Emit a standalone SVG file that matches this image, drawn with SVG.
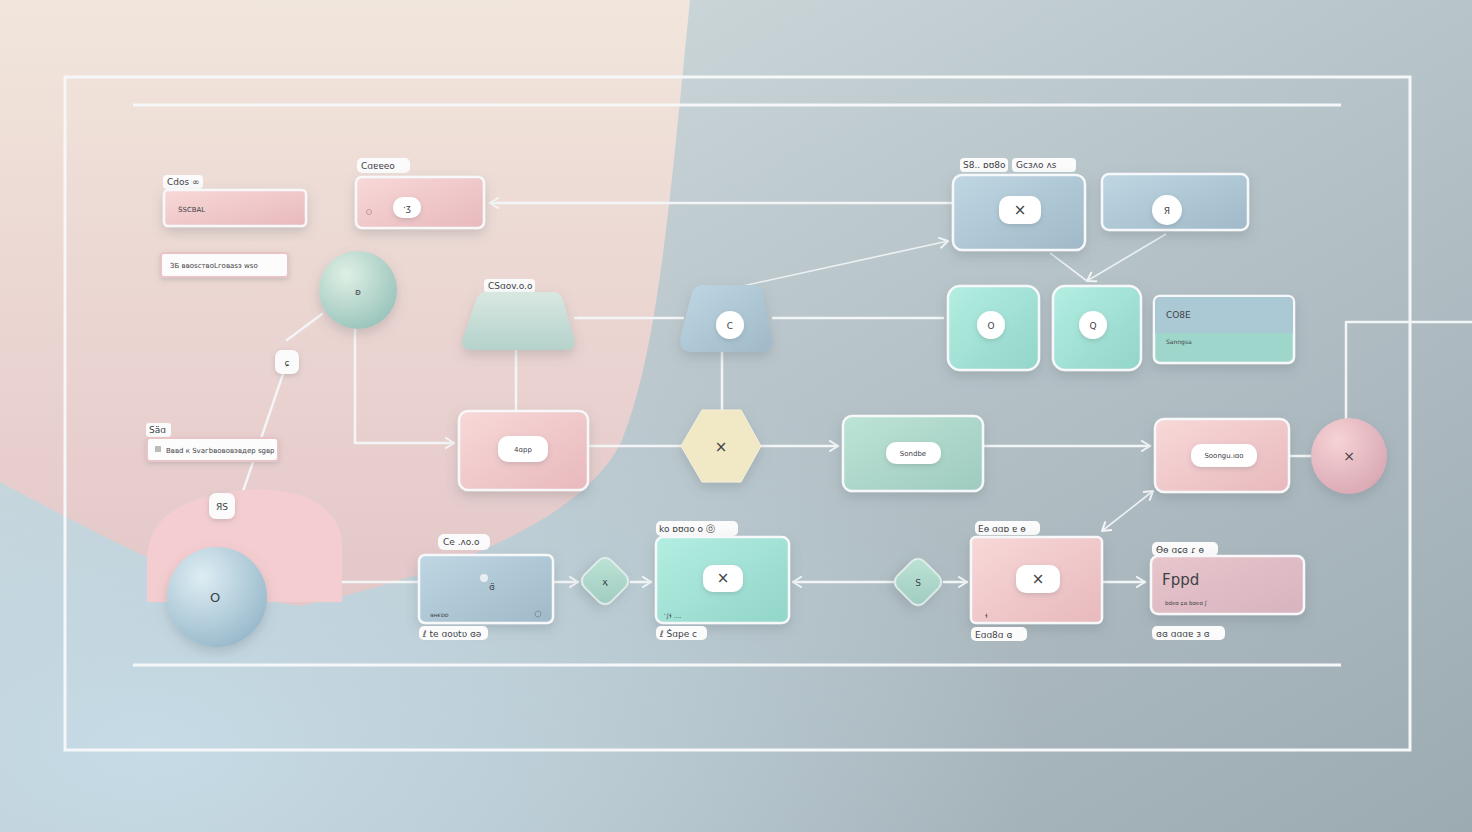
<svg xmlns="http://www.w3.org/2000/svg" width="1472" height="832" viewBox="0 0 1472 832">
<defs>
<linearGradient id="bg" x1="0" y1="0" x2="1" y2="1"><stop offset="0" stop-color="#d9e3e4"/><stop offset="0.5" stop-color="#b7c4c9"/><stop offset="1" stop-color="#9caab2"/></linearGradient>
<linearGradient id="pinkbg" x1="0" y1="0" x2="0" y2="1"><stop offset="0" stop-color="#f1e6dc"/><stop offset="0.5" stop-color="#ebd6d2"/><stop offset="1" stop-color="#e4c7c9"/></linearGradient>
<radialGradient id="bluebl" cx="0.1" cy="0.9" r="0.6"><stop offset="0" stop-color="#c6dbe6"/><stop offset="1" stop-color="#c6dbe6" stop-opacity="0"/></radialGradient>
<linearGradient id="gPink" x1="0" y1="0" x2="1" y2="1"><stop offset="0" stop-color="#f8d8d8"/><stop offset="1" stop-color="#e8b9bd"/></linearGradient>
<linearGradient id="gBlue" x1="0" y1="0" x2="1" y2="1"><stop offset="0" stop-color="#bfd7e3"/><stop offset="1" stop-color="#a0b9c8"/></linearGradient>
<linearGradient id="gTeal" x1="0" y1="0" x2="1" y2="1"><stop offset="0" stop-color="#b3eee2"/><stop offset="1" stop-color="#92d5c9"/></linearGradient>
<linearGradient id="gGreen" x1="0" y1="0" x2="1" y2="1"><stop offset="0" stop-color="#bde4d6"/><stop offset="1" stop-color="#9ecabf"/></linearGradient>
<linearGradient id="gTrap" x1="0" y1="0" x2="0" y2="1"><stop offset="0" stop-color="#d8e8e1"/><stop offset="1" stop-color="#b4d2cb"/></linearGradient>
<linearGradient id="gMauve" x1="0" y1="0" x2="1" y2="1"><stop offset="0" stop-color="#e8c6cc"/><stop offset="1" stop-color="#d7b3bf"/></linearGradient>
<radialGradient id="cGreen" cx="0.35" cy="0.3" r="0.8"><stop offset="0" stop-color="#dff0e4"/><stop offset="1" stop-color="#95c1b9"/></radialGradient>
<radialGradient id="cBlue" cx="0.35" cy="0.3" r="0.8"><stop offset="0" stop-color="#deedf3"/><stop offset="1" stop-color="#94b6c9"/></radialGradient>
<radialGradient id="cPink" cx="0.35" cy="0.3" r="0.8"><stop offset="0" stop-color="#f6d2d5"/><stop offset="1" stop-color="#d8a6b2"/></radialGradient>
<filter id="sh" x="-30%" y="-30%" width="160%" height="170%"><feDropShadow dx="0" dy="5" stdDeviation="6" flood-color="#5a6870" flood-opacity="0.25"/></filter>
<filter id="sh2" x="-30%" y="-30%" width="160%" height="170%"><feDropShadow dx="0" dy="2" stdDeviation="2.5" flood-color="#5a6870" flood-opacity="0.25"/></filter>
<marker id="arr" viewBox="0 0 12 12" refX="10" refY="6" markerWidth="12" markerHeight="12" markerUnits="userSpaceOnUse" orient="auto-start-reverse"><path d="M2,1 L10,6 L2,11" fill="none" stroke="#f4f6f7" stroke-width="2" stroke-linecap="round" stroke-linejoin="round"/></marker>
<style>
.ln{fill:none;stroke:#f3f5f6;stroke-width:2.5;stroke-linecap:round;stroke-linejoin:round}
.thin{fill:none;stroke:#eef1f2;stroke-width:1.6}
.frame{fill:none;stroke:#f6f7f8;stroke-width:3}
.bx{stroke:#f7f8f9;stroke-width:2.5;filter:url(#sh)}
.tag{fill:#fbfbfb}
.pill{fill:#ffffff;filter:url(#sh2)}
.t{font-family:"DejaVu Sans",sans-serif;fill:#3e4246}
.s9{font-size:9px}
.s8{font-size:7px}
.big{font-size:15px}
</style>
</defs>
<rect width="1472" height="832" fill="url(#bg)"/>
<rect width="1472" height="832" fill="url(#bluebl)"/>
<path d="M0,0 H690 C670,200 658,350 622,440 C585,520 445,575 300,606 C200,592 95,532 0,482 Z" fill="url(#pinkbg)"/>

<rect x="65" y="77" width="1345" height="673" class="frame"/>
<line x1="133" y1="105" x2="1341" y2="105" class="frame"/>
<line x1="133" y1="665" x2="1341" y2="665" class="frame"/>

<g id="connectors">
<path d="M953,203 H490" class="ln" marker-end="url(#arr)"/>
<path d="M575,318 H683" class="ln"/>
<path d="M773,318 H943" class="ln"/>
<path d="M738,287 L948,241" class="thin" marker-end="url(#arr)"/>
<path d="M1050,253 L1087,281" class="thin"/>
<path d="M1166,234 L1087,281" class="thin" marker-end="url(#arr)"/>
<path d="M516,350 V411" class="ln"/>
<path d="M722,352 V410" class="ln"/>
<path d="M355,329 V443 H454" class="ln" marker-end="url(#arr)"/>
<path d="M588,446 H681" class="ln"/>
<path d="M761,446 H838" class="ln" marker-end="url(#arr)"/>
<path d="M983,446 H1150" class="ln" marker-end="url(#arr)"/>
<path d="M1289,456 H1311" class="ln"/>
<path d="M1346,418 V322 H1472" class="ln"/>
<path d="M1102,531 L1153,491" class="thin" marker-start="url(#arr)" marker-end="url(#arr)"/>
<path d="M322,314 L287,340" class="ln"/>
<path d="M283,374 L223,550" class="ln"/>
<path d="M267,582 H419" class="ln"/>
<path d="M553,582 H578" class="ln" marker-end="url(#arr)"/>
<path d="M631,582 H651" class="ln" marker-end="url(#arr)"/>
<path d="M893,582 H793" class="ln" marker-end="url(#arr)"/>
<path d="M944,582 H967" class="ln" marker-end="url(#arr)"/>
<path d="M1102,582 H1145" class="ln" marker-end="url(#arr)"/>
</g>

<g id="n-blob"><path d="M147,562 C147,512 190,496 245,490 C300,486 342,505 342,548 V602 H147 Z" fill="#f4cdd0"/></g>

<g id="n-pinkbar">
<rect x="163" y="175" width="40" height="14" rx="4" class="tag"/>
<text x="167" y="185" class="t s9">Cdos ∞</text>
<rect x="164" y="190" width="142" height="36" rx="4" fill="url(#gPink)" class="bx"/>
<text x="178" y="212" class="t s8" fill="#8a7070">S̈SCBAL</text>
</g>

<g id="n-whitebar1">
<rect x="161" y="253" width="127" height="24" rx="3" fill="#fdfcfc" stroke="#e8c4c6" stroke-width="2" filter="url(#sh2)"/>
<text x="170" y="268" class="t s8">ЗБ  ввоsствоLговаsэ wsо</text>
</g>

<g id="n-pinkbox1">
<rect x="357" y="158" width="53" height="15" rx="5" class="tag"/>
<text x="361" y="169" class="t s9">Cɑɐɐeo</text>
<rect x="356" y="177" width="128" height="51" rx="6" fill="url(#gPink)" class="bx"/>
<rect x="393" y="197" width="28" height="21" rx="10" class="pill"/>
<text x="407" y="211" class="t s9" text-anchor="middle">·ʒ</text>
<circle cx="369" cy="212" r="2.5" fill="none" stroke="#c99" stroke-width="1"/>
</g>

<g id="n-greencircle">
<circle cx="358" cy="290" r="39" fill="url(#cGreen)" filter="url(#sh)"/>
<text x="358" y="295" class="t s9" text-anchor="middle">ʚ</text>
</g>

<g id="n-badge1">
<rect x="275" y="350" width="24" height="24" rx="7" fill="#fbfbfb" filter="url(#sh2)"/>
<text x="287" y="366" class="t s9" text-anchor="middle">ɕ</text>
</g>

<g id="n-whitebar2">
<rect x="146" y="423" width="25" height="14" rx="3" class="tag"/>
<text x="149" y="433" class="t s9">Säɑ</text>
<rect x="147" y="438" width="131" height="23" rx="3" fill="#fdfcfc" stroke="#e8c4c6" stroke-width="2" filter="url(#sh2)"/>
<rect x="155" y="446" width="6" height="6" fill="#bbb"/>
<text x="166" y="453" class="t s8">Вввd к Svaгbвoвовэвдeр sgвр</text>
</g>

<g id="n-badge2">
<rect x="209" y="493" width="26" height="26" rx="7" fill="#fbfbfb" filter="url(#sh2)"/>
<text x="222" y="510" class="t s9" text-anchor="middle">ЯS</text>
</g>

<g id="n-bluecircle">
<circle cx="217" cy="597" r="50" fill="url(#cBlue)" filter="url(#sh)"/>
<text x="215" y="602" class="t" font-size="13" text-anchor="middle">O</text>
</g>

<g id="n-greentrap">
<rect x="484" y="279" width="51" height="14" rx="4" class="tag"/>
<text x="488" y="289" class="t s9">CSɑov.o.o</text>
<path d="M486,292 H553 Q560,292 563,300 L574,338 Q577,350 565,350 H472 Q460,350 463,338 L476,300 Q479,292 486,292 Z" fill="url(#gTrap)" filter="url(#sh)"/>
</g>

<g id="n-bluetrap">
<path d="M703,285 H752 Q760,285 763,293 L771,335 Q774,352 760,352 H692 Q678,352 681,335 L692,293 Q695,285 703,285 Z" fill="url(#gBlue)" filter="url(#sh)"/>
<circle cx="730" cy="325" r="14" class="pill"/>
<text x="730" y="329" class="t s9" text-anchor="middle">C</text>
</g>

<g id="n-pinkmid">
<rect x="459" y="411" width="129" height="79" rx="9" fill="url(#gPink)" class="bx" stroke-width="3"/>
<rect x="498" y="436" width="50" height="26" rx="10" class="pill"/>
<text x="523" y="452" class="t s8" text-anchor="middle">4ɑpp</text>
</g>

<g id="n-hex">
<polygon points="702,410 741,410 761,446 741,482 702,482 681,446" fill="#f1e8c6" filter="url(#sh)" stroke="#f5efd8" stroke-width="1"/>
<text x="721" y="452" class="t" font-size="15" text-anchor="middle" fill="#222">×</text>
</g>

<g id="n-greenbox">
<rect x="843" y="416" width="140" height="75" rx="9" fill="url(#gGreen)" class="bx"/>
<rect x="886" y="442" width="55" height="22" rx="10" class="pill"/>
<text x="913" y="456" class="t s8" text-anchor="middle">Sondbe</text>
</g>

<g id="n-pinkright">
<rect x="1155" y="419" width="134" height="73" rx="9" fill="url(#gPink)" class="bx"/>
<rect x="1191" y="444" width="66" height="23" rx="10" class="pill"/>
<text x="1224" y="458" class="t s8" text-anchor="middle">Soongu.ıɑo</text>
</g>

<g id="n-pinkcircle">
<circle cx="1349" cy="456" r="38" fill="url(#cPink)" filter="url(#sh)"/>
<text x="1349" y="461" class="t" font-size="14" text-anchor="middle" fill="#222">×</text>
</g>

<g id="n-bluebox1">
<rect x="960" y="158" width="48" height="14" rx="4" class="tag"/>
<text x="963" y="168" class="t s9">S8.. ɒʊ8o</text>
<rect x="1012" y="158" width="64" height="14" rx="4" class="tag"/>
<text x="1016" y="168" class="t s9">Gcɜʌo  ʌs</text>
<rect x="953" y="175" width="132" height="75" rx="9" fill="url(#gBlue)" class="bx"/>
<rect x="999" y="196" width="42" height="28" rx="10" class="pill"/>
<text x="1020" y="215" class="t" font-size="15" text-anchor="middle" fill="#222">×</text>
</g>

<g id="n-bluebox2">
<rect x="1102" y="174" width="146" height="56" rx="7" fill="url(#gBlue)" class="bx"/>
<circle cx="1167" cy="210" r="15" class="pill"/>
<text x="1167" y="214" class="t s9" text-anchor="middle">Я</text>
</g>

<g id="n-teal1">
<rect x="948" y="286" width="91" height="84" rx="12" fill="url(#gTeal)" class="bx" stroke-width="1.5"/>
<circle cx="991" cy="325" r="14" class="pill"/>
<text x="991" y="329" class="t s9" text-anchor="middle">O</text>
</g>

<g id="n-teal2">
<rect x="1053" y="286" width="88" height="84" rx="12" fill="url(#gTeal)" class="bx" stroke-width="1.5"/>
<circle cx="1093" cy="325" r="14" class="pill"/>
<text x="1093" y="329" class="t s9" text-anchor="middle">Q</text>
</g>

<g id="n-splitbox">
<rect x="1154" y="296" width="140" height="67" rx="6" fill="#9fd6cb" class="bx"/>
<path d="M1160,297 H1288 Q1293,297 1293,302 V333 H1155 V302 Q1155,297 1160,297 Z" fill="#abc8d5"/>
<text x="1166" y="318" class="t s9">CO8E</text>
<text x="1166" y="344" class="t" font-size="6px">Sanngsa</text>
</g>

<g id="n-bluebot">
<rect x="438" y="534" width="52" height="16" rx="6" class="tag"/>
<text x="443" y="545" class="t s9">Ce .ʌo.o</text>
<rect x="419" y="555" width="134" height="68" rx="6" fill="url(#gBlue)" class="bx"/>
<circle cx="484" cy="578" r="4" fill="#e8eef2"/>
<text x="492" y="590" class="t s9" text-anchor="middle">ɞ̈</text>
<text x="430" y="617" class="t" font-size="6px">ɘнєɒɒ</text>
<circle cx="538" cy="614" r="3" fill="none" stroke="#7a8a95" stroke-width="0.8"/>
<rect x="419" y="626" width="69" height="14" rx="5" class="tag"/>
<text x="423" y="637" class="t s9">ℓ te ɑoʋtʋ ɞə</text>
</g>

<g id="n-diamond1">
<rect x="586" y="562" width="38" height="38" rx="9" transform="rotate(45 605 581)" fill="url(#gGreen)" stroke="#eef4f2" stroke-width="1.5" filter="url(#sh)"/>
<text x="605" y="585" class="t s9" text-anchor="middle" fill="#222">ҳ</text>
</g>

<g id="n-tealbot">
<rect x="656" y="521" width="82" height="15" rx="5" class="tag"/>
<text x="659" y="532" class="t s9">ko ɒʊɑo o  ⓞ</text>
<rect x="656" y="537" width="133" height="86" rx="7" fill="url(#gTeal)" class="bx"/>
<rect x="703" y="565" width="40" height="27" rx="10" class="pill"/>
<text x="723" y="583" class="t" font-size="15" text-anchor="middle" fill="#222">×</text>
<text x="664" y="618" class="t" font-size="6px" fill="#6b8a86">ʻ∫ɬ ....</text>
<rect x="656" y="626" width="51" height="14" rx="5" class="tag"/>
<text x="660" y="637" class="t s9">ℓ Ṡɑpe c</text>
</g>

<g id="n-diamond2">
<rect x="899" y="563" width="38" height="38" rx="9" transform="rotate(45 918 582)" fill="url(#gGreen)" stroke="#eef4f2" stroke-width="1.5" filter="url(#sh)"/>
<text x="918" y="586" class="t s9" text-anchor="middle" fill="#222">S</text>
</g>

<g id="n-pinkbot">
<rect x="975" y="521" width="65" height="14" rx="5" class="tag"/>
<text x="978" y="532" class="t s9">Eɵ ɑɑɒ ɐ ɵ</text>
<rect x="971" y="537" width="131" height="86" rx="5" fill="url(#gPink)" class="bx"/>
<rect x="1016" y="565" width="44" height="28" rx="10" class="pill"/>
<text x="1038" y="584" class="t" font-size="15" text-anchor="middle" fill="#222">×</text>
<text x="985" y="618" class="t" font-size="6px" fill="#a07a80">ɬ</text>
<rect x="971" y="627" width="56" height="14" rx="5" class="tag"/>
<text x="975" y="638" class="t s9">Eɑɑ8ɑ ɞ</text>
</g>

<g id="n-mauve">
<rect x="1152" y="542" width="66" height="14" rx="5" class="tag"/>
<text x="1156" y="553" class="t s9">Ɵɵ ɑɕɞ ɾ ɵ</text>
<rect x="1151" y="556" width="153" height="58" rx="7" fill="url(#gMauve)" class="bx"/>
<text x="1162" y="585" class="t big" fill="#3a3438">Fppd</text>
<text x="1165" y="605" class="t" font-size="5.5px">bdeɑ  ɕɞ bɑeɑ ʃ</text>
<rect x="1152" y="626" width="73" height="14" rx="5" class="tag"/>
<text x="1156" y="637" class="t s9">ɞɞ ɑɑɑɐ ɜ ɞ</text>
</g>
</svg>
